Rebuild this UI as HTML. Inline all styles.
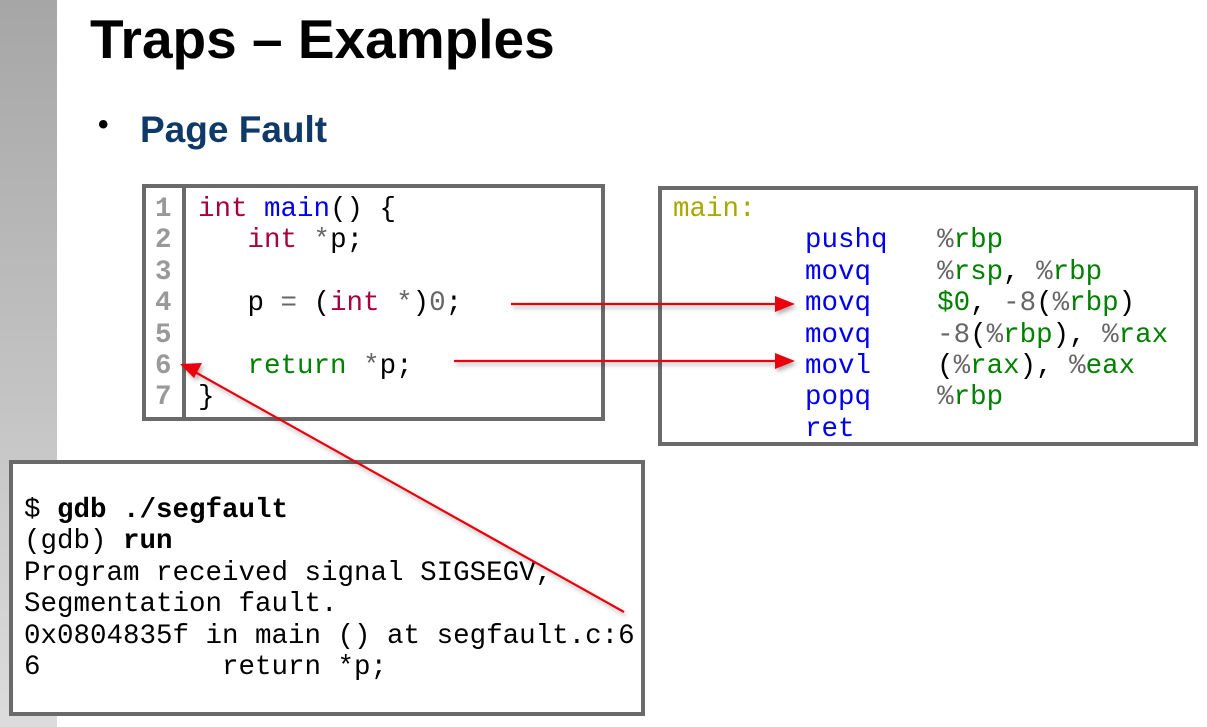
<!DOCTYPE html>
<html><head><meta charset="utf-8"><style>
body{margin:0;width:1207px;height:727px;position:relative;background:#fff;overflow:hidden;font-family:"Liberation Sans",sans-serif}
.bar{position:absolute;left:0;top:0;width:57px;height:727px;background:linear-gradient(#a6a6a6,#dcdcdc)}
.box{position:absolute;border:4px solid #6a6a6a;box-sizing:border-box;background:#fff}
.m{position:absolute;font-family:"Liberation Mono",monospace;font-size:27.5px;line-height:31.4px;white-space:pre;margin:0}
.k{color:#a8003c}.b{color:#0000ee}.g{color:#008000}.o{color:#666}.y{color:#a8a800}
</style></head><body>
<div class="bar"></div>
<div style="position:absolute;left:90px;top:7px;font-size:55px;font-weight:bold;color:#000">Traps – Examples</div>
<div style="position:absolute;left:98px;top:108px;font-size:30px;font-weight:bold">•</div>
<div style="position:absolute;left:140px;top:109px;font-size:37px;font-weight:bold;color:#0f3a68">Page Fault</div>

<div class="box" style="left:142px;top:184px;width:463px;height:237px"></div>
<div style="position:absolute;left:182px;top:186px;width:4px;height:233px;background:#6a6a6a"></div>
<pre class="m" style="left:155px;top:194px;color:#999;font-weight:bold">1
2
3
4
5
6
7</pre>
<pre class="m" style="left:198px;top:194px"><span class="k">int</span> <span class="b">main</span>() {
   <span class="k">int</span> <span class="o">*</span>p;

   p <span class="o">=</span> (<span class="k">int</span> <span class="o">*</span>)<span class="o">0</span>;

   <span class="g">return</span> <span class="o">*</span>p;
}</pre>

<div class="box" style="left:658px;top:186px;width:540px;height:260px"></div>
<pre class="m" style="left:673px;top:194px"><span class="y">main:</span>
        <span class="b">pushq</span>   <span class="o">%</span><span class="g">rbp</span>
        <span class="b">movq</span>    <span class="o">%</span><span class="g">rsp</span>, <span class="o">%</span><span class="g">rbp</span>
        <span class="b">movq</span>    <span class="g">$0</span>, <span class="o">-8</span>(<span class="o">%</span><span class="g">rbp</span>)
        <span class="b">movq</span>    <span class="o">-8</span>(<span class="o">%</span><span class="g">rbp</span>), <span class="o">%</span><span class="g">rax</span>
        <span class="b">movl</span>    (<span class="o">%</span><span class="g">rax</span>), <span class="o">%</span><span class="g">eax</span>
        <span class="b">popq</span>    <span class="o">%</span><span class="g">rbp</span>
        <span class="b">ret</span></pre>

<div class="box" style="left:9px;top:460px;width:636px;height:256px"></div>
<pre class="m" style="left:24px;top:495px;color:#000">$ <b>gdb ./segfault</b>
(gdb) <b>run</b>
Program received signal SIGSEGV,
Segmentation fault.
0x0804835f in main () at segfault.c:6
6           return *p;</pre>

<svg width="1207" height="727" style="position:absolute;left:0;top:0">
<defs><filter id="s"><feDropShadow dx="2" dy="3" stdDeviation="2" flood-opacity="0.3"/></filter></defs>
<g filter="url(#s)" stroke="#e8000a" stroke-width="2.2" fill="#e8000a">
<line x1="511" y1="304" x2="780" y2="304"/><polygon points="795,304 775,296 775,312" stroke="none"/>
<line x1="454" y1="361" x2="780" y2="361"/><polygon points="795,361 775,353 775,369" stroke="none"/>
<line x1="624" y1="612" x2="195" y2="372"/><polygon points="180,364 202,363 194,378" stroke="none"/>
</g></svg>
</body></html>
